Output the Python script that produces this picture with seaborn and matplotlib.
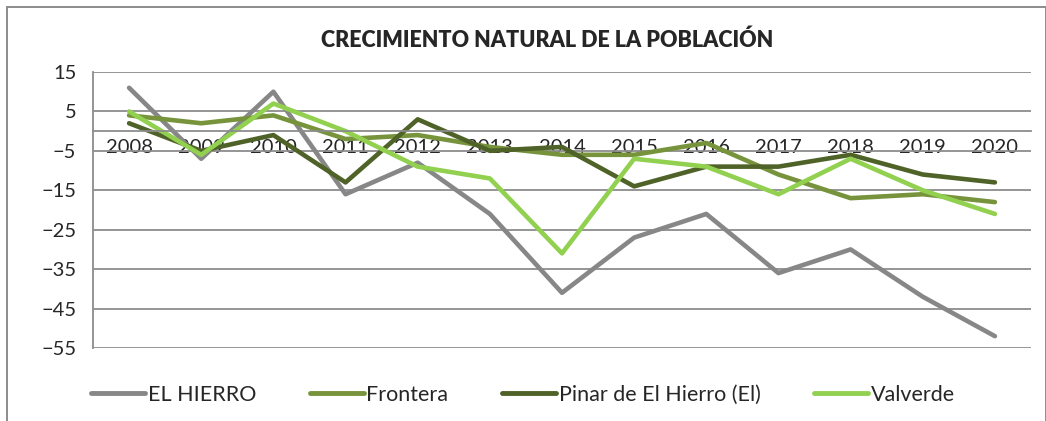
import pandas as pd
import matplotlib
matplotlib.use('Agg')
import matplotlib.pyplot as plt
import seaborn as sns
from matplotlib.patches import Rectangle

# Data
years = list(range(2008, 2021))
el_hierro = [11, -7, 10, -16, -8, -21, -41, -27, -21, -36, -30, -42, -52]
frontera = [4, 2, 4, -2, -1, -4, -6, -6, -3, -11, -17, -16, -18]
pinar = [2, -5, -1, -13, 3, -5, -4, -14, -9, -9, -6, -11, -13]
valverde = [5, -6, 7, 0, -9, -12, -31, -7, -9, -16, -7, -15, -21]

series_names = ['EL HIERRO', 'Frontera', 'Pinar de El Hierro (El)', 'Valverde']
colors = ['#878787', '#77933C', '#4F6228', '#92D050']

df = pd.DataFrame({'Año': years * 4,
                   'Valor': el_hierro + frontera + pinar + valverde,
                   'Serie': [n for n in series_names for _ in years]})

sns.set_style('white')
plt.rcParams['font.family'] = ['Lato', 'DejaVu Sans']

fig = plt.figure(figsize=(10.46, 4.21), dpi=100)
ax = fig.add_axes([93 / 1046, 1 - 348 / 421, (1031 - 93) / 1046, (348 - 72) / 421])

sns.lineplot(data=df, x='Año', y='Valor', hue='Serie', palette=colors,
             linewidth=3.3, ax=ax, legend=False)
for line in ax.get_lines():
    line.set_solid_capstyle('round')
    line.set_solid_joinstyle('round')

grid_col = '#8C8C8C'
ax.set_ylim(-55, 15)
ax.set_xlim(2007.5, 2020.5)
ax.set_yticks(range(-55, 16, 10))
ax.set_xticks(years)
ax.set_xticklabels([str(y) for y in years])
ax.yaxis.grid(True, color=grid_col, linewidth=1.3)
ax.set_axisbelow(True)
ax.spines['bottom'].set_position(('data', 0))
ax.spines['bottom'].set_color(grid_col)
ax.spines['bottom'].set_linewidth(1.3)
ax.spines['left'].set_color(grid_col)
ax.spines['left'].set_linewidth(1.3)
ax.spines['top'].set_visible(False)
ax.spines['right'].set_visible(False)
ax.tick_params(axis='y', length=0, pad=12, labelsize=14.5)
ax.tick_params(axis='x', length=0, pad=6, labelsize=14.5)
ax.set_xlabel('')
ax.set_ylabel('')

fig.text(547 / 1046, 1 - 40 / 421, 'CRECIMIENTO NATURAL DE LA POBLACIÓN',
         ha='center', va='center', fontsize=15.5, fontweight='heavy')

handles = [plt.Line2D([], [], color=c, linewidth=3.5, solid_capstyle='round') for c in colors]
fig.legend(handles, series_names, loc='center', bbox_to_anchor=(523 / 1046, 1 - 395 / 421),
           ncol=4, frameon=False, fontsize=15.5, handlelength=2.5, handletextpad=0.12,
           columnspacing=2.5)

fig.patches.append(Rectangle((7 / 1046, -0.05), 1038.5 / 1046, 1.05 - 7 / 421,
                             transform=fig.transFigure, fill=False,
                             edgecolor='#8C8C8C', linewidth=1.4))

fig.savefig('out.png', dpi=100)
